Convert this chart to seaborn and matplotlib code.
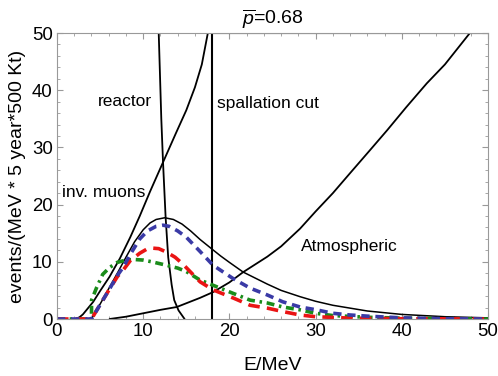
import seaborn as sns
import matplotlib.pyplot as plt
from matplotlib.ticker import MultipleLocator

sns.set_style("ticks")
plt.rcParams['font.family'] = ['Liberation Sans', 'DejaVu Sans']
plt.rcParams['mathtext.fontset'] = 'custom'
plt.rcParams['mathtext.it'] = 'Liberation Sans:italic'
plt.rcParams['mathtext.rm'] = 'Liberation Sans'
plt.rcParams['text.color'] = 'black'
plt.rcParams['axes.labelcolor'] = 'black'
plt.rcParams['xtick.labelcolor'] = 'black'
plt.rcParams['ytick.labelcolor'] = 'black'

# signal spectra (E in MeV, events)
signal_E = [4, 5, 6, 7, 8, 9, 10, 10.8, 11.5, 12.5, 13.5, 14.5, 15.5, 16.6, 18, 19, 20, 21.6,
            24.4, 26, 28.2, 30, 32, 36, 40, 45, 50]
signal_y = [0, 2.6, 5.3, 8.0, 10.8, 13.5, 15.6, 16.8, 17.4, 17.7, 17.4, 16.6, 15.4, 13.9, 12.2,
            11.0, 9.9, 8.2, 6.1, 5.0, 3.9, 3.1, 2.4, 1.4, 0.8, 0.4, 0.2]

blue_E = [0, 4, 5, 6, 7, 7.7, 8.5, 9.6, 10.5, 11.5, 12.3, 13, 14, 15, 16.6, 18.1, 20.4, 22.4,
          24.4, 26.2, 28.2, 30.1, 32, 34, 36, 40, 45, 50]
blue_y = [0, 0, 2.5, 5.0, 7.6, 9.1, 11.3, 14.0, 15.4, 16.2, 16.4, 16.2, 15.4, 14.3, 11.8, 9.4,
          7.1, 5.4, 4.2, 3.0, 2.1, 1.6, 1.0, 0.7, 0.5, 0.2, 0.05, 0]

red_E = [0, 4, 5, 6, 7, 7.7, 8.5, 9.6, 10.4, 11, 11.8, 12.7, 13.7, 14.6, 15.5, 16.6, 18.1,
         20.4, 22.4, 24.4, 26.2, 28.2, 30, 34, 40, 50]
red_y = [0, 0, 2.5, 5.0, 7.4, 8.6, 10.2, 11.5, 12.2, 12.4, 12.3, 11.7, 10.8, 9.6, 8.2, 6.5, 5.1,
         3.7, 2.4, 1.9, 1.3, 0.7, 0.4, 0.15, 0.05, 0]

green_E = [0, 4.0, 4.01, 4.6, 5.3, 6.1, 7, 8, 9, 10, 11, 12.7, 14, 15, 16.6, 18.1, 20.4, 22.4,
           24.4, 26.2, 28.2, 30, 32, 36, 40, 45, 50]
green_y = [0, 0, 3.3, 5.5, 7.8, 9.0, 9.9, 10.3, 10.4, 10.3, 10.0, 9.4, 8.9, 8.3, 6.8, 5.9, 4.5,
           3.3, 2.8, 2.1, 1.6, 1.0, 0.6, 0.3, 0.15, 0.05, 0]

# backgrounds
muon_E = [2.1, 2.6, 3, 3.6, 4.2, 5, 6.1, 7.3, 8.5, 9.6, 10.8, 12.3, 13.8, 15, 16, 16.8, 17.5]
muon_y = [0, 0.3, 0.8, 1.9, 3.0, 4.9, 7.4, 10.6, 14.3, 18.0, 22.3, 27.4, 32.5, 36.5, 40.5,
          44.5, 50]

atm_E = [6.1, 8, 10, 12, 13.9, 16.6, 18.1, 20, 21.6, 24.4, 26, 28.2, 30, 32, 34, 36.3, 38.3,
         40.5, 42.9, 45, 47.9]
atm_y = [0, 0.4, 1.0, 1.6, 2.1, 3.7, 4.7, 6.4, 8.2, 10.9, 12.7, 15.8, 18.8, 22, 25.5, 29.5,
         33, 37, 41.2, 44.5, 50]

reactor_y = [50, 35, 27.4, 17.8, 10.8, 6, 3.3, 1.5, 0]
reactor_E = [11.8, 12.1, 12.3, 12.6, 12.9, 13.3, 13.6, 14.1, 14.8]

spall_E = [18, 18, 50]
spall_y = [0, 50, 50]

fig = plt.figure(figsize=(4.98, 3.76), dpi=100)
ax = fig.add_axes([57 / 498, 1 - 319 / 376, 431 / 498, 286 / 376])

kw = dict(estimator=None, sort=False, ax=ax, legend=False)
sns.lineplot(x=muon_E, y=muon_y, color='black', lw=1.3, **kw)
sns.lineplot(x=atm_E, y=atm_y, color='black', lw=1.3, **kw)
sns.lineplot(x=reactor_E, y=reactor_y, color='black', lw=1.3, **kw)
sns.lineplot(x=spall_E, y=spall_y, color='black', lw=1.5, **kw)
sns.lineplot(x=signal_E, y=signal_y, color='black', lw=1.1, **kw)

sns.lineplot(x=green_E, y=green_y, color='#1a8c1a', lw=2.6, **kw)
ax.lines[-1].set_dashes([2.2, 1.3, 0.7, 1.3])
sns.lineplot(x=red_E, y=red_y, color='#ea1414', lw=2.6, **kw)
ax.lines[-1].set_dashes([3.2, 2.0])
sns.lineplot(x=blue_E, y=blue_y, color='#3a3aa6', lw=2.6, **kw)
ax.lines[-1].set_dashes([2.3, 1.6])

ax.set_xlim(0, 50)
ax.set_ylim(0, 50)
ax.xaxis.set_major_locator(MultipleLocator(10))
ax.yaxis.set_major_locator(MultipleLocator(10))
ax.xaxis.set_minor_locator(MultipleLocator(2))
ax.yaxis.set_minor_locator(MultipleLocator(2))
ax.tick_params(which='both', direction='in', top=True, right=True, color='#999999',
               labelsize=13.4, pad=3)
ax.tick_params(which='major', length=4.5, width=0.8)
ax.tick_params(which='minor', length=2.5, width=0.6)
for s in ax.spines.values():
    s.set_color('#999999')
    s.set_linewidth(0.8)

ax.set_xlabel('E/MeV', fontsize=14, labelpad=12)
ax.set_ylabel('events/(MeV * 5 year*500 Kt)', fontsize=14, labelpad=4)
ax.set_title(r'$\overline{p}$=0.68', fontsize=14, pad=6)

ax.text(4.76, 38.1, 'reactor', fontsize=12.5, va='center')
ax.text(18.56, 37.6, 'spallation cut', fontsize=12.5, va='center')
ax.text(0.58, 22.2, 'inv. muons', fontsize=12.5, va='center')
ax.text(28.3, 12.6, 'Atmospheric', fontsize=12.5, va='center')

fig.savefig('out.png', dpi=100)
